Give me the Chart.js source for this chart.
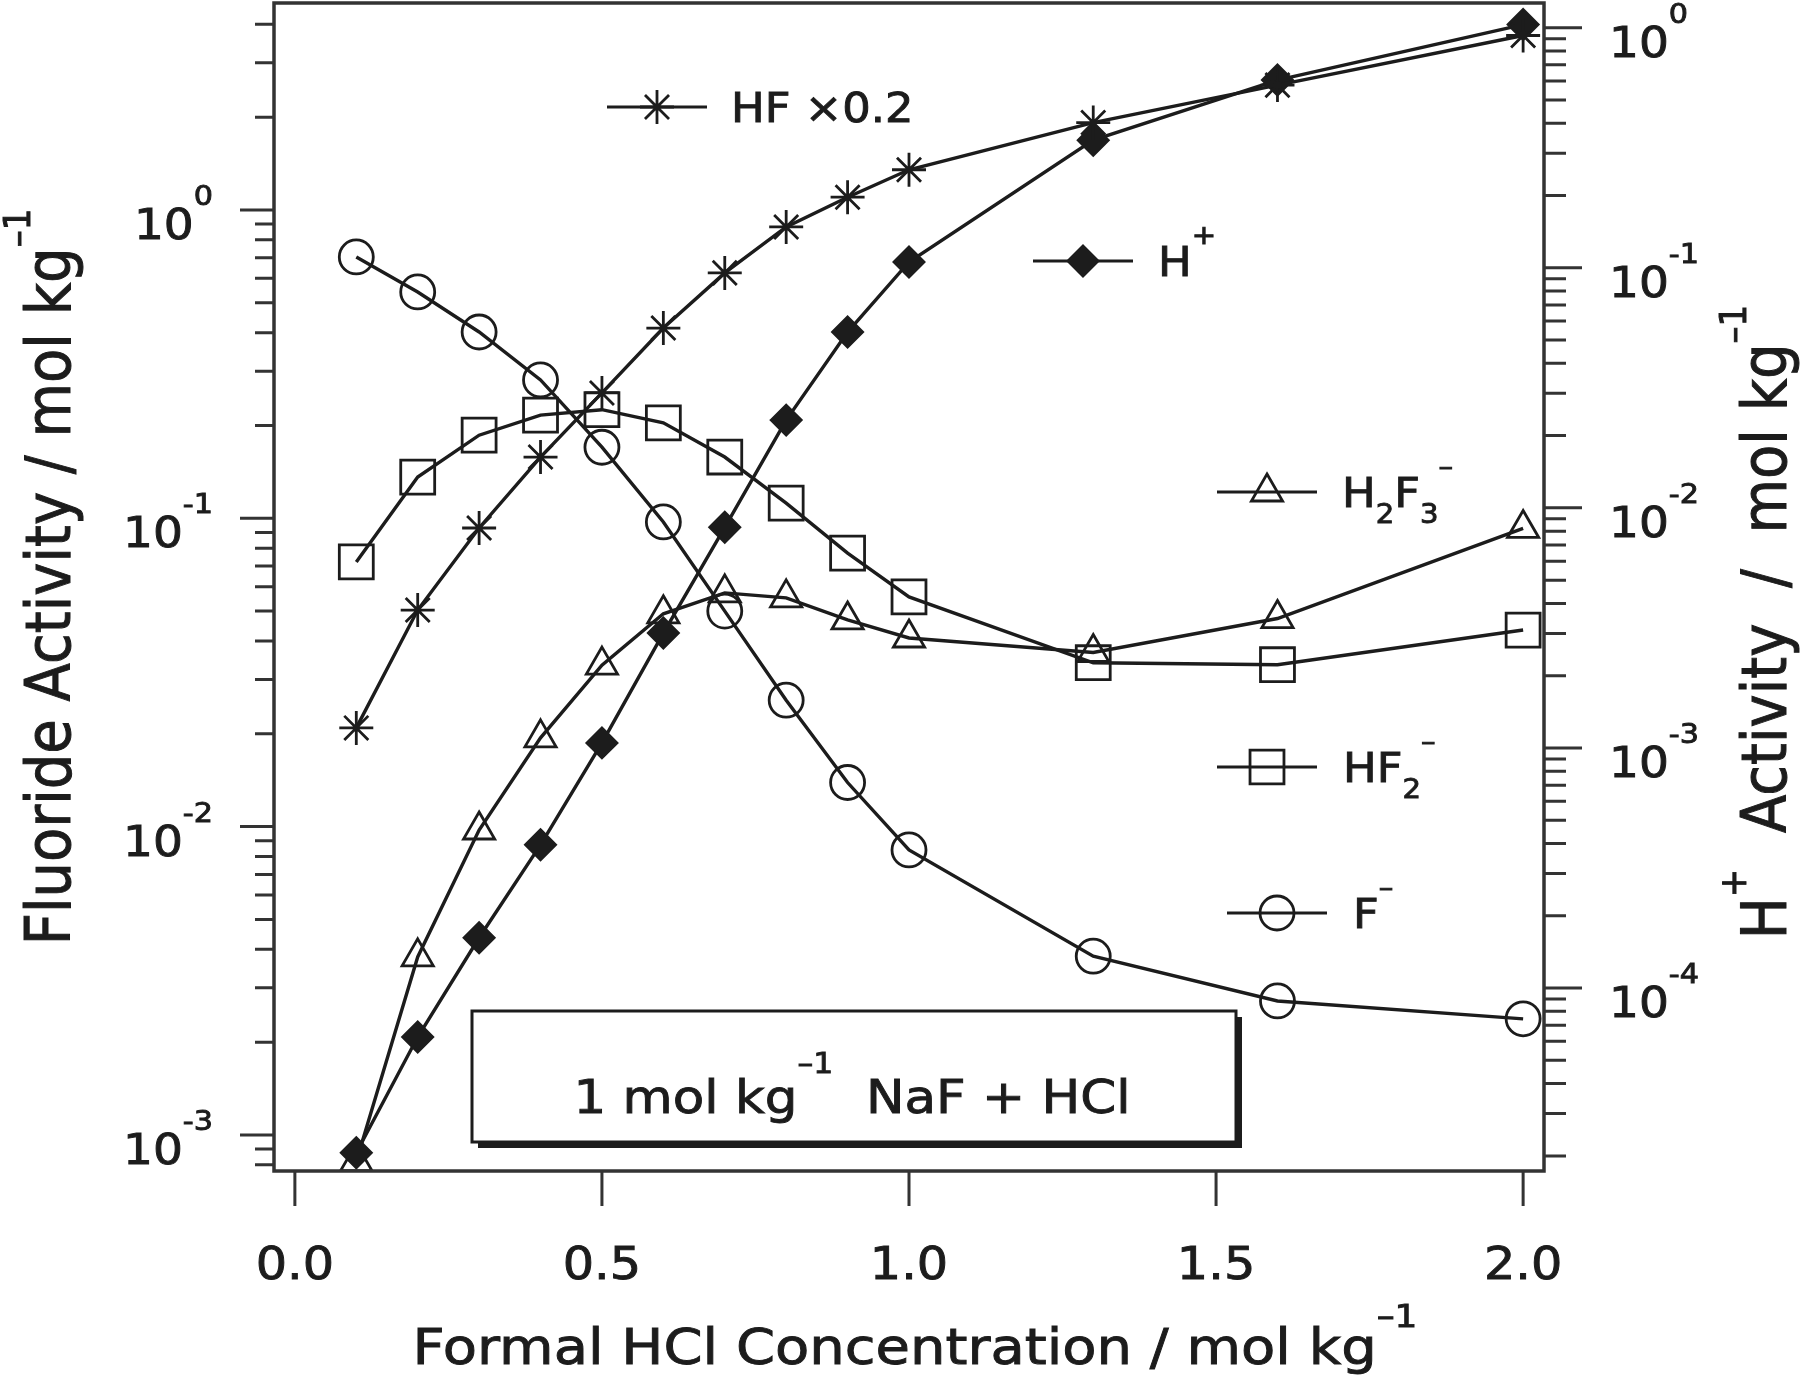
<!DOCTYPE html>
<html lang="en">
<head>
<meta charset="UTF-8">
<title>Fluoride and H+ activity vs formal HCl</title>
<script src="https://cdn.jsdelivr.net/npm/chart.js"></script>
<style>
  body { margin: 0; background: #fff; }
  #wrap { width: 1800px; height: 1377px; }
</style>
</head>
<body>
<div id="wrap"><canvas id="chart" width="1800" height="1377"></canvas></div>
<script>
// formal HCl concentration / mol kg-1
const hclConc = [0.1, 0.2, 0.3, 0.4, 0.5, 0.6, 0.7, 0.8, 0.9, 1.0, 1.3, 1.6, 2.0];

// activities (left axis)
const hfTimes02 = [0.0209, 0.0504, 0.093, 0.158, 0.255, 0.414, 0.625, 0.881, 1.10, 1.35, 1.92, 2.54, 3.68];
const h2f3 = [0.00082, 0.00378, 0.00975, 0.0194, 0.0334, 0.049, 0.0573, 0.0552, 0.0468, 0.0409, 0.0367, 0.0473, 0.0927];
const hf2 = [0.0722, 0.136, 0.186, 0.216, 0.225, 0.204, 0.158, 0.112, 0.0771, 0.0556, 0.034, 0.0335, 0.0434];
const fMinus = [0.704, 0.542, 0.402, 0.281, 0.170, 0.0973, 0.050, 0.0257, 0.0139, 0.0084, 0.0038, 0.00272, 0.00238];
// H+ activity (right axis)
const hPlus = [2.06e-5, 6.25e-5, 1.62e-4, 3.95e-4, 1.05e-3, 3.01e-3, 8.3e-3, 0.0232, 0.054, 0.1057, 0.34, 0.605, 1.03];

const xTicks = [0, 0.5, 1.0, 1.5, 2.0];

const FONT = '"DejaVu Sans", sans-serif';
const SX = 1.12;          // picture is a bit stretched sideways
const INK = '#1c1c1c';
const AXIS = '#333';

const seriesDefs = [
  { label: 'HF x0.2', data: hfTimes02, axis: 'y', style: 'star', radius: 17, solid: false },
  { label: 'H+', data: hPlus, axis: 'y2', style: 'rectRot', radius: 15, solid: true },
  { label: 'H2F3-', data: h2f3, axis: 'y', style: 'triangle', radius: 18, solid: false },
  { label: 'HF2-', data: hf2, axis: 'y', style: 'rect', radius: 24, solid: false },
  { label: 'F-', data: fMinus, axis: 'y', style: 'circle', radius: 17, solid: false }
];

// in-plot legend samples (series index, marker x, y, text x, rich text)
const legendSlots = [
  { s: 0, x: 657, y: 107, tx: 731, parts: [['HF ×0.2', 40, 0]] },
  { s: 1, x: 1083, y: 261, tx: 1158, parts: [['H', 40, 0], ['+', 26, -32]] },
  { s: 2, x: 1267, y: 492, tx: 1342, parts: [['H', 40, 0], ['2', 26, 16], ['F', 40, 0], ['3', 26, 16], ['–', 26, -32]] },
  { s: 3, x: 1267, y: 767, tx: 1343, parts: [['HF', 40, 0], ['2', 26, 16], ['–', 26, -32]] },
  { s: 4, x: 1277, y: 913, tx: 1353, parts: [['F', 40, 0], ['–', 26, -32]] }
];

function drawRich(ctx, parts, x, y, align, rot) {
  ctx.save();
  ctx.translate(x, y);
  ctx.scale(SX, 1);
  if (rot) ctx.rotate(rot);
  ctx.fillStyle = INK;
  ctx.strokeStyle = INK;
  ctx.lineWidth = 0.9;
  ctx.textBaseline = 'alphabetic';
  ctx.textAlign = 'left';
  let w = 0;
  const widths = parts.map(p => {
    ctx.font = p[1] + 'px ' + FONT;
    const m = ctx.measureText(p[0]).width;
    w += m;
    return m;
  });
  let cx = align === 'center' ? -w / 2 : (align === 'right' ? -w : 0);
  parts.forEach((p, i) => {
    ctx.font = p[1] + 'px ' + FONT;
    ctx.fillText(p[0], cx, p[2]);
    ctx.strokeText(p[0], cx, p[2]);
    cx += widths[i];
  });
  ctx.restore();
}

function logTicks(scale) {
  const out = [];
  const d0 = Math.floor(Math.log10(scale.min));
  const d1 = Math.ceil(Math.log10(scale.max));
  for (let d = d0; d <= d1; d++) {
    for (let m = 1; m <= 9; m++) {
      const v = m * Math.pow(10, d);
      if (v >= scale.min && v <= scale.max) out.push([v, m === 1, d]);
    }
  }
  return out;
}

function marker(ctx, def, x, y) {
  ctx.save();
  ctx.strokeStyle = INK;
  ctx.fillStyle = def.solid ? INK : 'rgba(0,0,0,0)';
  ctx.lineWidth = 2.8;
  if (Chart.helpers && Chart.helpers.drawPoint) {
    Chart.helpers.drawPoint(ctx, { pointStyle: def.style, radius: def.radius, rotation: 0, borderWidth: 2.8 }, x, y);
  } else {
    ctx.beginPath();
    ctx.arc(x, y, def.radius * 0.7, 0, Math.PI * 2);
    ctx.fill();
    ctx.stroke();
  }
  ctx.restore();
}

const decor = {
  id: 'decor',
  afterDraw(chart) {
    const ctx = chart.ctx;
    const { left, right, top, bottom } = chart.chartArea;
    const xs = chart.scales.x, yl = chart.scales.y, yr = chart.scales.y2;
    ctx.save();

    // frame
    ctx.strokeStyle = AXIS;
    ctx.lineWidth = 3.5;
    ctx.strokeRect(left, top, right - left, bottom - top);

    // tick marks
    ctx.lineWidth = 3;
    ctx.beginPath();
    xTicks.forEach(v => {
      const p = xs.getPixelForValue(v);
      ctx.moveTo(p, bottom);
      ctx.lineTo(p, bottom + 35);
    });
    logTicks(yl).forEach(t => {
      const p = yl.getPixelForValue(t[0]);
      ctx.moveTo(left, p);
      ctx.lineTo(left - (t[1] ? 34 : 19), p);
    });
    logTicks(yr).forEach(t => {
      const p = yr.getPixelForValue(t[0]);
      ctx.moveTo(right, p);
      ctx.lineTo(right + (t[1] ? 38 : 22), p);
    });
    ctx.stroke();

    // tick labels
    xTicks.forEach(v => {
      drawRich(ctx, [[v.toFixed(1), 44, 0]], xs.getPixelForValue(v), 1279, 'center');
    });
    logTicks(yl).filter(t => t[1]).forEach(t => {
      const p = yl.getPixelForValue(t[0]);
      const e = t[2] === 0 ? '0' : '-' + (-t[2]);
      drawRich(ctx, [['10', 42, 0], [e, 27, -34]], 213, p + 29, 'right');
    });
    logTicks(yr).filter(t => t[1]).forEach(t => {
      const p = yr.getPixelForValue(t[0]);
      const e = t[2] === 0 ? '0' : '-' + (-t[2]);
      drawRich(ctx, [['10', 42, 0], [e, 27, -34]], 1609, p + 29, 'left');
    });

    // axis titles
    drawRich(ctx, [['Formal HCl Concentration / mol kg', 50, 0], ['–1', 32, -37]], 915, 1364, 'center');
    drawRich(ctx, [['Fluoride Activity / mol kg', 56, 0], ['–1', 34, -36]], 70, 577, 'center', -Math.PI / 2);
    drawRich(ctx, [['H', 56, 0], ['+', 34, -36], ['  Activity  /  mol kg', 56, 0], ['–1', 34, -36]], 1786, 622, 'center', -Math.PI / 2);

    // legend samples
    legendSlots.forEach(L => {
      const def = seriesDefs[L.s];
      ctx.strokeStyle = INK;
      ctx.lineWidth = 3.2;
      ctx.beginPath();
      ctx.moveTo(L.x - 50, L.y);
      ctx.lineTo(L.x + 50, L.y);
      ctx.stroke();
      marker(ctx, def, L.x, L.y);
      drawRich(ctx, L.parts, L.tx, L.y + 15, 'left');
    });

    // inset label box
    ctx.fillStyle = INK;
    ctx.fillRect(478, 1017, 764, 131);
    ctx.fillStyle = '#fff';
    ctx.fillRect(472, 1011, 764, 131);
    ctx.strokeStyle = INK;
    ctx.lineWidth = 3;
    ctx.strokeRect(472, 1011, 764, 131);
    drawRich(ctx, [['1 mol kg', 46, 0], ['–1', 28, -40], ['  NaF + HCl', 46, 0]], 852, 1113, 'center');

    ctx.restore();
  }
};

const datasets = seriesDefs.map(def => ({
  label: def.label,
  data: hclConc.map((x, i) => ({ x: x, y: def.data[i] })),
  yAxisID: def.axis,
  borderColor: INK,
  borderWidth: 3.4,
  tension: 0,
  pointStyle: def.style,
  pointRadius: def.radius,
  pointBorderWidth: 2.8,
  pointBorderColor: INK,
  pointBackgroundColor: def.solid ? INK : 'rgba(0,0,0,0)',
  fill: false
}));

new Chart(document.getElementById('chart').getContext('2d'), {
  type: 'line',
  data: { datasets: datasets },
  options: {
    responsive: false,
    animation: false,
    devicePixelRatio: 1,
    events: [],
    layout: { autoPadding: false, padding: { top: 3, left: 0, right: 0, bottom: 0 } },
    plugins: { legend: { display: false }, tooltip: { enabled: false } },
    scales: {
      x: {
        type: 'linear', min: -0.034, max: 2.034,
        grid: { display: false }, border: { display: false },
        ticks: { display: false },
        afterFit: s => { s.height = 206; }
      },
      y: {
        type: 'logarithmic', position: 'left', min: 7.64e-4, max: 4.69,
        grid: { display: false }, border: { display: false },
        ticks: { display: false },
        afterFit: s => { s.width = 274; }
      },
      y2: {
        type: 'logarithmic', position: 'right', min: 1.73e-5, max: 1.267,
        grid: { display: false }, border: { display: false },
        ticks: { display: false },
        afterFit: s => { s.width = 256; }
      }
    }
  },
  plugins: [decor]
});
</script>
</body>
</html>
